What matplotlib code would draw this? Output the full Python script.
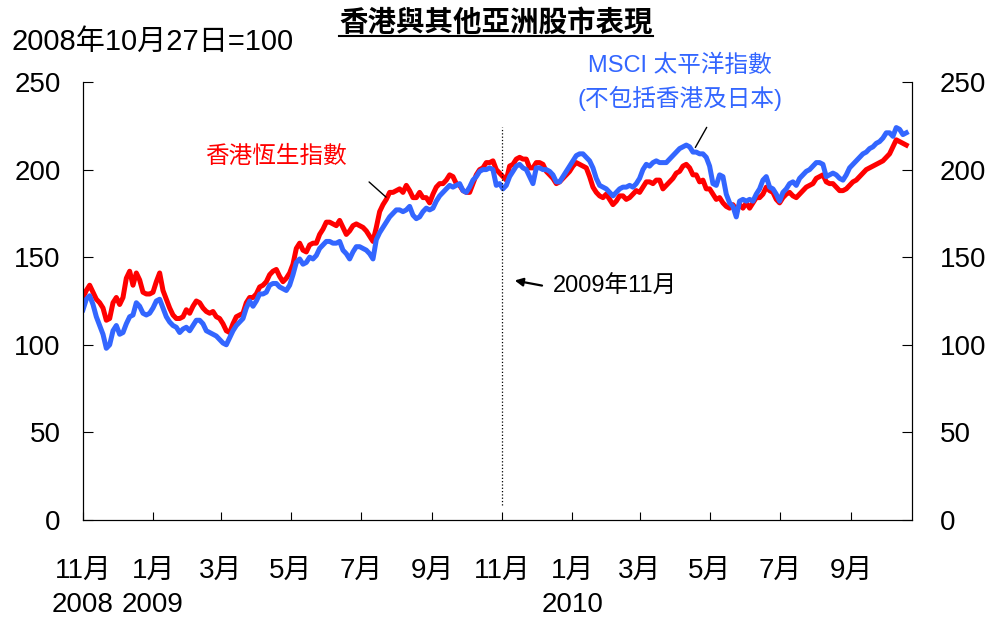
import numpy as np
import pandas as pd
import matplotlib
matplotlib.use("Agg")
import matplotlib.pyplot as plt
from matplotlib.lines import Line2D

plt.rcParams['font.family'] = ['Liberation Sans', 'Noto Sans CJK TC']

# series, about every 3 days from early Nov 2008 to mid Oct 2010 (27 Oct 2008 = 100)
hsi = [127, 131, 134, 130, 126, 124, 121, 114, 115, 124,
       127, 123, 127, 138, 142, 134, 141, 137, 130, 129,
       129, 130, 136, 141, 131, 126, 121, 117, 115, 115,
       116, 120, 118, 122, 125, 124, 121, 119, 118, 119,
       116, 115, 112, 108, 107, 112, 116, 117, 118, 124,
       127, 127, 129, 133, 134, 136, 140, 142, 143, 139,
       136, 138, 141, 146, 155, 158, 154, 153, 157, 158,
       158, 163, 166, 170, 170, 169, 168, 171, 167, 163,
       165, 168, 169, 168, 167, 165, 162, 159, 167, 176,
       180, 183, 187, 187, 188, 189, 187, 191, 188, 184,
       184, 187, 184, 184, 181, 186, 190, 192, 192, 194,
       197, 196, 192, 191, 188, 187, 187, 192, 197, 200,
       201, 204, 204, 205, 200, 198, 196, 194, 202, 203,
       206, 207, 206, 206, 201, 201, 204, 204, 203, 199,
       197, 195, 192, 193, 195, 197, 199, 202, 204, 203,
       202, 201, 196, 190, 187, 185, 184, 186, 183, 180,
       182, 185, 185, 183, 184, 186, 188, 187, 190, 193,
       193, 192, 194, 194, 189, 191, 193, 195, 198, 199,
       202, 203, 201, 197, 197, 193, 194, 189, 189, 186,
       183, 184, 181, 179, 178, 180, 177, 180, 178, 181,
       178, 181, 184, 184, 186, 190, 188, 187, 183, 181,
       184, 186, 187, 185, 184, 186, 188, 190, 191, 192,
       195, 196, 197, 193, 192, 192, 190, 188, 188, 189,
       191, 193, 194, 196, 198, 200, 201, 202, 203, 204,
       205, 207, 209, 213, 217, 216, 215, 214]

msci = [120, 126, 128, 123, 116, 111, 106, 98, 100, 108,
        111, 106, 107, 112, 116, 117, 124, 122, 118, 117,
        118, 121, 125, 126, 121, 116, 113, 111, 110, 107,
        109, 110, 108, 111, 114, 114, 112, 108, 107, 106,
        105, 103, 101, 100, 104, 108, 111, 113, 115, 121,
        125, 122, 125, 129, 129, 130, 134, 135, 135, 133,
        132, 131, 134, 140, 147, 149, 146, 147, 150, 149,
        151, 155, 157, 159, 159, 158, 158, 159, 154, 152,
        149, 153, 156, 156, 155, 154, 152, 149, 160, 164,
        167, 170, 173, 175, 177, 177, 176, 177, 179, 174,
        172, 173, 176, 178, 177, 178, 182, 185, 187, 189,
        191, 190, 191, 192, 188, 187, 190, 194, 196, 199,
        200, 200, 201, 200, 191, 192, 189, 191, 196, 199,
        202, 203, 201, 200, 196, 192, 201, 201, 200, 200,
        199, 197, 193, 193, 196, 199, 202, 205, 208, 209,
        209, 207, 205, 201, 195, 191, 190, 189, 187, 185,
        187, 189, 190, 190, 191, 190, 192, 195, 200, 203,
        202, 204, 205, 204, 204, 204, 206, 208, 210, 212,
        213, 214, 213, 210, 210, 209, 209, 207, 202, 192,
        191, 197, 196, 186, 181, 179, 173, 182, 183, 182,
        183, 182, 186, 189, 194, 196, 190, 189, 186, 182,
        187, 189, 192, 193, 191, 195, 197, 199, 200, 202,
        204, 204, 203, 196, 197, 198, 197, 195, 194, 197,
        201, 203, 205, 207, 209, 210, 212, 213, 215, 216,
        218, 221, 221, 219, 224, 223, 220, 221]

dates = pd.date_range("2008-11-01", "2010-10-19", periods=len(hsi))

tick_dates = pd.date_range("2008-11-01", "2010-09-01", freq="2MS")
tick_labels = ["11月\n2008", "1月\n2009", "3月", "5月", "7月", "9月",
               "11月", "1月\n2010", "3月", "5月", "7月", "9月"]
yticks = [0, 50, 100, 150, 200, 250]

fig = plt.figure(figsize=(9.94, 6.19), dpi=100)
ax = fig.add_axes([0.0835, 0.16, 0.834, 0.7075])

ax.plot(dates, hsi, color='#ff0000', lw=3.6)
ax.plot(dates, msci, color='#3366ff', lw=3.6)

# Nov 2009 marker
ax.axvline(pd.Timestamp("2009-11-01"), ymin=0.034, ymax=0.897,
           color='k', lw=0.9, ls=':')

ax.set_xlim(pd.Timestamp("2008-11-01"), pd.Timestamp("2010-10-24"))
ax.set_ylim(0, 250)
ax.set_yticks(yticks)
ax.set_xticks(tick_dates)
ax.set_xticklabels(tick_labels, fontsize=20, linespacing=1.45)
ax.tick_params(axis='x', direction='in', length=6, pad=27)
ax.tick_params(axis='y', direction='in', length=7, labelsize=20, pad=16)
ax.spines['top'].set_visible(False)

ax2 = ax.twinx()
ax2.set_ylim(0, 250)
ax2.set_yticks(yticks)
ax2.tick_params(axis='y', direction='in', length=7, labelsize=20, pad=20)
ax2.spines['top'].set_visible(False)

# labels on the lines
ax.text(0.233, 0.829, "香港恆生指數", transform=ax.transAxes, color='#ff0000',
        fontsize=17, ha='center', va='center')
ax.annotate("", xy=(0.368, 0.733), xytext=(0.3426, 0.776), xycoords='axes fraction',
            arrowprops=dict(arrowstyle='-', color='k', lw=1))

ax.text(0.720, 1.0365, "MSCI 太平洋指數", transform=ax.transAxes, color='#3366ff',
        fontsize=17, ha='center', va='center')
ax.text(0.720, 0.9635, "(不包括香港及日本)", transform=ax.transAxes, color='#3366ff',
        fontsize=17, ha='center', va='center')
ax.annotate("", xy=(0.737, 0.845), xytext=(0.754, 0.902), xycoords='axes fraction',
            arrowprops=dict(arrowstyle='-', color='k', lw=1))

ax.text(0.567, 0.532, "2009年11月", transform=ax.transAxes, color='k',
        fontsize=17, ha='left', va='center')
ax.annotate("", xy=(0.5175, 0.548), xytext=(0.557, 0.534), xycoords='axes fraction',
            arrowprops=dict(arrowstyle='-|>', color='k', lw=1.6, mutation_scale=12))

# title (underlined) and unit
title = fig.text(0.499, 0.963, "香港與其他亞洲股市表現", fontsize=20.5,
                 weight='bold', ha='center', va='center')
fig.text(0.012, 0.932, "2008年10月27日=100", fontsize=21, ha='left', va='center')

fig.canvas.draw()
bb = title.get_window_extent().transformed(fig.transFigure.inverted())
fig.add_artist(Line2D([bb.x0, bb.x1], [bb.y0 + 0.002, bb.y0 + 0.002],
                      transform=fig.transFigure, color='k', lw=1.5))

fig.savefig("out.png", dpi=100)
